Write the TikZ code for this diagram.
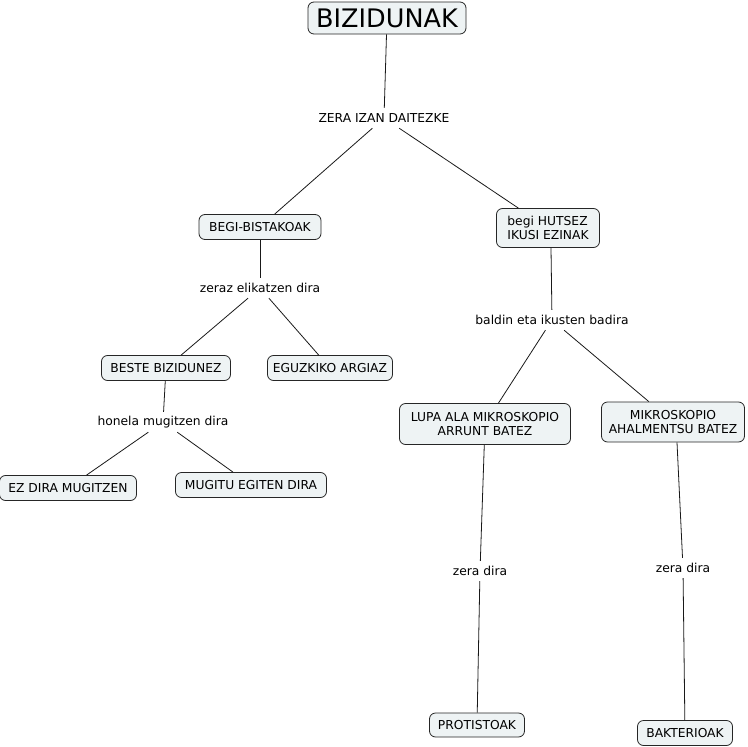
\documentclass[tikz,border=0pt]{standalone}
\usepackage{fontspec}
\setmainfont{DejaVu Sans}
\begin{document}
\begin{tikzpicture}[x=1pt,y=-1pt,
  box/.style n args={2}{draw=black!85, line width=0.8pt, rounded corners=6pt, fill=boxfill,
     minimum width=#1, minimum height=#2, inner sep=1pt, font=\fontsize{12.3}{14}\selectfont, align=center},
  lbl/.style={inner xsep=3pt, minimum height=20pt, inner ysep=0pt, font=\fontsize{12.3}{14}\selectfont},
  conn/.style={draw=black!90, line width=0.8pt}]
\definecolor{boxfill}{HTML}{EEF3F4}
\useasboundingbox (0,0) rectangle (748,747);
\node[box={158pt}{32pt}, font=\fontsize{25.5}{28}\selectfont] (root) at (387,18) {BIZIDUNAK};
\node[lbl] (l1) at (384,118) {ZERA IZAN DAITEZKE};
\node[box={122pt}{25pt}] (begi) at (260,227) {BEGI-BISTAKOAK};
\node[box={103pt}{39pt}, align=left] (hutsez) at (548,228) {begi HUTSEZ\\IKUSI EZINAK};
\node[lbl] (l2) at (260,288) {zeraz elikatzen dira};
\node[box={129pt}{25pt}] (beste) at (166,368) {BESTE BIZIDUNEZ};
\node[box={125pt}{25pt}] (eguzki) at (330,368) {EGUZKIKO ARGIAZ};
\node[lbl] (l3) at (163,422) {honela mugitzen dira};
\node[box={137pt}{25pt}] (ez) at (68,488) {EZ DIRA MUGITZEN};
\node[box={151pt}{25pt}] (mugitu) at (251,485) {MUGITU EGITEN DIRA};
\node[lbl] (l4) at (552,320) {baldin eta ikusten badira};
\node[box={171pt}{41pt}] (lupa) at (485,424) {LUPA ALA MIKROSKOPIO\\ARRUNT BATEZ};
\node[box={143pt}{40pt}] (mikro) at (673,422) {MIKROSKOPIO\\AHALMENTSU BATEZ};
\node[lbl] (l5) at (480,571) {zera dira};
\node[lbl] (l6) at (683,568) {zera dira};
\node[box={95pt}{24pt}] (protist) at (477,725) {PROTISTOAK};
\node[box={95pt}{25pt}] (bakter) at (685,733) {BAKTERIOAK};
\draw[conn] (root) -- (l1);
\draw[conn] (l1) -- (begi);
\draw[conn] (l1) -- (hutsez);
\draw[conn] (begi) -- (l2);
\draw[conn] (l2) -- (beste);
\draw[conn] (l2) -- (eguzki);
\draw[conn] (beste) -- (l3);
\draw[conn] (l3) -- (ez);
\draw[conn] (l3) -- (mugitu);
\draw[conn] (hutsez.south -| 551,0) -- (l4);
\draw[conn] (l4) -- (lupa);
\draw[conn] (l4) -- (mikro);
\draw[conn] (lupa) -- (l5);
\draw[conn] (l5) -- (protist);
\draw[conn] (mikro.south -| 677,0) -- (l6);
\draw[conn] (l6) -- (bakter);
\end{tikzpicture}
\end{document}
